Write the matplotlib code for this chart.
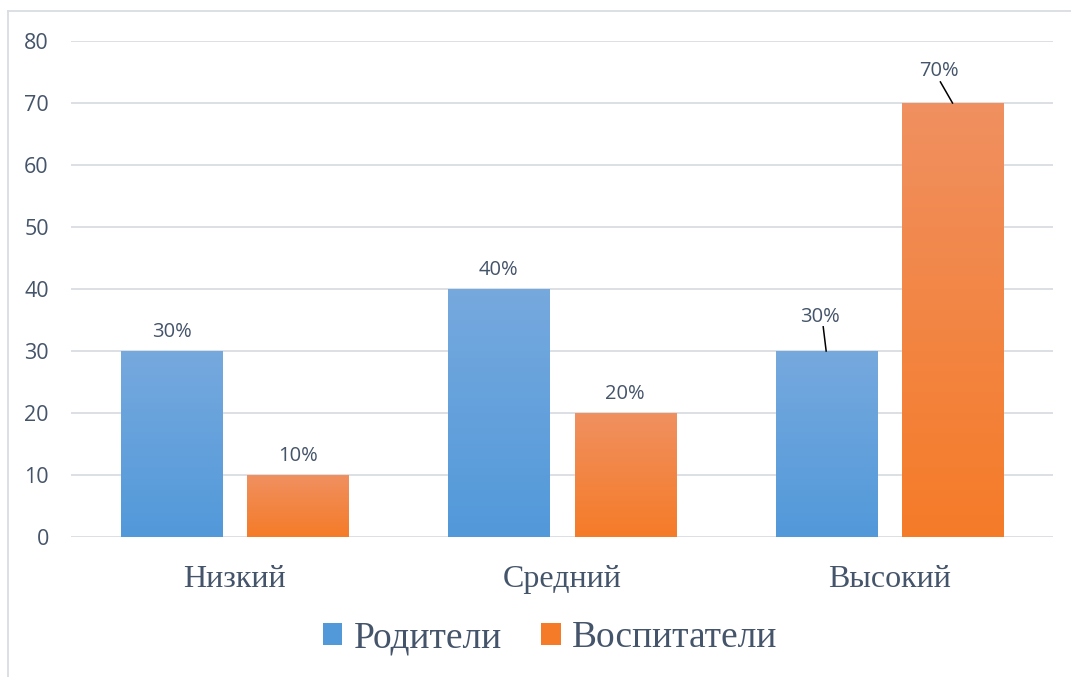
import numpy as np
import matplotlib.pyplot as plt
from matplotlib.colors import LinearSegmentedColormap
from matplotlib.lines import Line2D
from matplotlib.patches import Patch

categories = ["Низкий", "Средний", "Высокий"]
parents = [30, 40, 30]
teachers = [10, 20, 70]
series_names = ["Родители", "Воспитатели"]
yticks = [0, 10, 20, 30, 40, 50, 60, 70, 80]

text_col = "#44546A"
grid_col = "#D9DDE3"
blue_top, blue_bot = "#76A9DE", "#5299DA"
orange_top, orange_bot = "#F09060", "#F57B28"

fig = plt.figure(figsize=(10.71, 6.77), dpi=100)
ax = fig.add_axes([71 / 1071, 1 - 537 / 677, 982 / 1071, 496 / 677])

x = np.arange(len(categories))
w = 0.309
off = 0.193

b1 = ax.bar(x - off, parents, w, color="none", edgecolor="none", zorder=3)
b2 = ax.bar(x + off, teachers, w, color="none", edgecolor="none", zorder=3)


def gradient_fill(bars, top, bot):
    cmap = LinearSegmentedColormap.from_list("g", [bot, top])
    grad = np.linspace(0, 1, 256).reshape(-1, 1)
    for p in bars:
        x0, y0 = p.get_x(), p.get_y()
        ax.imshow(grad, cmap=cmap, origin="lower", aspect="auto",
                  extent=(x0, x0 + p.get_width(), y0, y0 + p.get_height()),
                  zorder=3)


gradient_fill(b1, blue_top, blue_bot)
gradient_fill(b2, orange_top, orange_bot)

ax.set_xlim(-0.5, 2.5)
ax.set_ylim(0, 80)
ax.set_yticks(yticks)
ax.yaxis.grid(True, color=grid_col, linewidth=1.3, zorder=0)
ax.set_axisbelow(True)
for s in ax.spines.values():
    s.set_visible(False)
ax.tick_params(axis="y", length=0, pad=16, labelsize=15.5, labelcolor=text_col)
ax.tick_params(axis="x", length=0, pad=20, labelcolor=text_col)
for lab in ax.get_yticklabels():
    lab.set_fontfamily("Open Sans")
ax.set_xticks(x)
ax.set_xticklabels(categories, fontsize=23, fontfamily="Liberation Serif")

label_font = dict(fontsize=14.5, color=text_col, fontfamily="Open Sans", ha="center", va="bottom")

# data labels; some sit a bit higher with leader lines
for i, v in enumerate(parents):
    cx = x[i] - off
    if i == 2:
        ax.text(cx - 0.018, v + 3.9, f"{v}%", **label_font)
        ax.plot([cx - 0.009, cx], [v + 3.9, v], color="black", lw=1.1, zorder=4)
    else:
        ax.text(cx, v + 1.4, f"{v}%", **label_font)
for i, v in enumerate(teachers):
    cx = x[i] + off
    if i == 2:
        ax.text(cx - 0.04, v + 3.5, f"{v}%", **label_font)
        ax.plot([cx - 0.037, cx], [v + 3.4, v], color="black", lw=1.1, zorder=4)
    else:
        ax.text(cx, v + 1.4, f"{v}%", **label_font)

handles = [Patch(facecolor=blue_bot, edgecolor="none"),
           Patch(facecolor=orange_bot, edgecolor="none")]
fig.legend(handles, series_names, loc="center", bbox_to_anchor=(550 / 1071, 1 - 638 / 677),
           ncol=2, frameon=False, prop={"family": "Liberation Serif", "size": 27},
           labelcolor=text_col, handlelength=0.52, handleheight=0.52,
           handletextpad=0.3, columnspacing=1.05)

# outer chart border (left and top)
fig.add_artist(Line2D([7.5 / 1071, 7.5 / 1071], [0, 1 - 11 / 677], color=grid_col, lw=1.3))
fig.add_artist(Line2D([7.5 / 1071, 1], [1 - 11 / 677, 1 - 11 / 677], color=grid_col, lw=1.3))

fig.savefig("out.png", dpi=100)
